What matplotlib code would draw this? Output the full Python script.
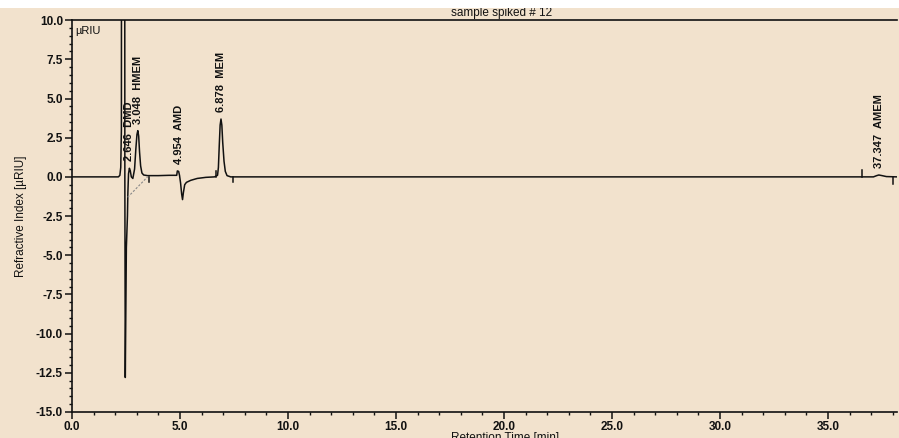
import matplotlib
matplotlib.use("Agg")
import matplotlib.pyplot as plt
from matplotlib.patches import Rectangle
from matplotlib.ticker import MultipleLocator, FormatStrFormatter

# chromatogram trace (min, uRIU); the solvent spike goes off scale
trace_t = [0.0, 2.15, 2.22, 2.26, 2.29, 2.31, 2.43, 2.45, 2.47, 2.52, 2.57, 2.59, 2.62,
           2.66, 2.70, 2.75, 2.82, 2.90, 2.96, 3.01, 3.05, 3.09, 3.13, 3.18, 3.24, 3.32,
           3.50, 4.00, 4.50, 4.85, 4.88, 4.94, 4.98, 5.03, 5.08, 5.12, 5.16, 5.22, 5.30,
           5.50, 5.80, 6.20, 6.60, 6.74, 6.78, 6.82, 6.86, 6.90, 6.94, 6.98, 7.04, 7.10,
           7.18, 7.35, 37.10, 37.25, 37.35, 37.50, 37.70, 38.20]
trace_y = [0.0, 0.0, 0.1, 0.6, 3.0, 60.0, 60.0, 0.0, -12.8, -4.5, -2.5, -1.0, 0.2,
           0.55, 0.4, 0.0, -0.1, 0.5, 1.8, 2.7, 2.95, 2.6, 1.6, 0.7, 0.25, 0.12,
           0.08, 0.08, 0.1, 0.1, 0.38, 0.35, 0.1, -0.4, -1.1, -1.45, -1.0, -0.5, -0.35,
           -0.22, -0.1, -0.03, 0.0, 0.1, 0.6, 2.0, 3.3, 3.69, 3.3, 2.2, 1.0, 0.35,
           0.08, 0.0, 0.0, 0.08, 0.12, 0.08, 0.02, 0.0]

# labelled peaks
peak_rt = [2.646, 3.048, 4.954, 6.878, 37.347]
peak_height = [0.55, 2.95, 0.38, 3.69, 0.12]
peak_names = ["DMD", "HMEM", "AMD", "MEM", "AMEM"]

# integration markers (time, tick height)
marker_t = [3.58, 6.66, 7.45, 36.57, 38.0]
marker_h = [-0.3, 0.35, -0.35, 0.45, -0.45]

# integration baseline under the first peaks
base_t = [2.58, 3.50]
base_y = [-1.3, 0.0]

bg = "#f2e2cd"
ink = "#111111"
fam = "Liberation Sans"

fig = plt.figure(figsize=(8.99, 4.38), dpi=100, facecolor=bg)
fig.patches.append(Rectangle((0, 0.982), 1, 0.018, transform=fig.transFigure,
                             facecolor="white", edgecolor="none", zorder=0))
ax = fig.add_axes([0.080, 0.0594, 0.918, 0.8946])
ax.set_facecolor(bg)

ax.plot(trace_t, trace_y, color=ink, lw=1.1)
ax.plot(base_t, base_y, color="#888888", lw=0.8, ls=(0, (2, 1.5)))
for t, h in zip(marker_t, marker_h):
    ax.plot([t, t], [0, h], color=ink, lw=1.1)

for rt, h, name in zip(peak_rt, peak_height, peak_names):
    ax.annotate(f"{rt:.3f}  {name}", (rt, h), xytext=(0, 5), textcoords="offset points",
                rotation=90, ha="center", va="bottom", fontsize=8,
                fontweight="bold", family=fam, color=ink)

ax.set_xlim(0, 38.2)
ax.set_ylim(-15, 10)
ax.xaxis.set_major_locator(MultipleLocator(5))
ax.xaxis.set_minor_locator(MultipleLocator(1))
ax.yaxis.set_major_locator(MultipleLocator(2.5))
ax.yaxis.set_minor_locator(MultipleLocator(0.5))
ax.xaxis.set_major_formatter(FormatStrFormatter("%.1f"))
ax.yaxis.set_major_formatter(FormatStrFormatter("%.1f"))
ax.tick_params(which="major", length=5, width=1.1, color=ink, pad=1.5,
               labelsize=8.5, labelcolor=ink)
ax.tick_params(which="minor", length=2.5, width=1.0, color=ink)
for lab in ax.get_xticklabels() + ax.get_yticklabels():
    lab.set_fontweight("bold")
    lab.set_family(fam)

for side in ["left", "bottom", "top"]:
    ax.spines[side].set_color(ink)
    ax.spines[side].set_linewidth(1.2)
ax.spines["right"].set_visible(False)

ax.set_ylabel("Refractive Index [µRIU]", fontsize=8.5, family=fam,
              color=ink, labelpad=6)
ax.set_xlabel("Retention Time [min]", fontsize=8.5, family=fam, color=ink)
ax.xaxis.set_label_coords(0.525, -0.05)
ax.text(0.52, 1.003, "sample spiked # 12", transform=ax.transAxes, ha="center",
        va="bottom", fontsize=8.5, family=fam, color=ink)
ax.text(0.004, 0.985, "µRIU", transform=ax.transAxes, ha="left", va="top",
        fontsize=8, family=fam, color=ink)

fig.savefig("out.png", dpi=100, facecolor=bg)
